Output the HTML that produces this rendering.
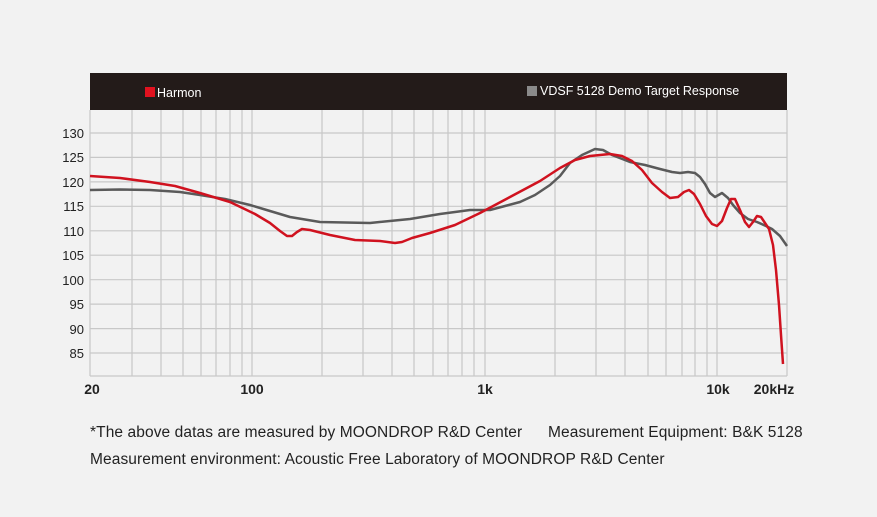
<!DOCTYPE html>
<html><head><meta charset="utf-8"><style>
html,body{margin:0;padding:0;background:#f2f2f2;}
body{width:877px;height:512px;overflow:hidden;font-family:"Liberation Sans",sans-serif;}
</style></head><body>
<svg width="877" height="512" xmlns="http://www.w3.org/2000/svg" font-family="Liberation Sans, sans-serif">
<rect width="877" height="512" fill="#f2f2f2"/>
<rect x="90" y="73" width="697" height="37" fill="#231b19"/>
<rect x="145" y="87" width="10" height="10" fill="#e0121f"/>
<text x="157" y="97" font-size="12.5" fill="#fff">Harmon</text>
<rect x="527" y="86" width="10" height="10" fill="#8a8a8a"/>
<text x="540" y="95" font-size="12.5" fill="#fff">VDSF 5128 Demo Target Response</text>
<g stroke="#c8c8c8" stroke-width="1.2">
<line x1="90" y1="110" x2="90" y2="376"/>
<line x1="787" y1="110" x2="787" y2="376"/>
<line x1="90" y1="376" x2="787" y2="376"/>
<line x1="90" y1="133" x2="787" y2="133"/><line x1="90" y1="157.4" x2="787" y2="157.4"/>
<line x1="90" y1="181.9" x2="787" y2="181.9"/><line x1="90" y1="206.3" x2="787" y2="206.3"/>
<line x1="90" y1="230.8" x2="787" y2="230.8"/><line x1="90" y1="255.2" x2="787" y2="255.2"/>
<line x1="90" y1="279.7" x2="787" y2="279.7"/><line x1="90" y1="304.1" x2="787" y2="304.1"/>
<line x1="90" y1="328.6" x2="787" y2="328.6"/><line x1="90" y1="353" x2="787" y2="353"/>
<line x1="132" y1="110" x2="132" y2="376"/><line x1="161" y1="110" x2="161" y2="376"/>
<line x1="183" y1="110" x2="183" y2="376"/><line x1="201" y1="110" x2="201" y2="376"/>
<line x1="216" y1="110" x2="216" y2="376"/><line x1="230" y1="110" x2="230" y2="376"/>
<line x1="242" y1="110" x2="242" y2="376"/><line x1="252" y1="110" x2="252" y2="376"/>
<line x1="322" y1="110" x2="322" y2="376"/><line x1="363" y1="110" x2="363" y2="376"/>
<line x1="392" y1="110" x2="392" y2="376"/><line x1="414" y1="110" x2="414" y2="376"/>
<line x1="433" y1="110" x2="433" y2="376"/><line x1="448" y1="110" x2="448" y2="376"/>
<line x1="462" y1="110" x2="462" y2="376"/><line x1="474" y1="110" x2="474" y2="376"/>
<line x1="485" y1="110" x2="485" y2="376"/>
<line x1="555" y1="110" x2="555" y2="376"/><line x1="596" y1="110" x2="596" y2="376"/>
<line x1="625" y1="110" x2="625" y2="376"/><line x1="648" y1="110" x2="648" y2="376"/>
<line x1="666" y1="110" x2="666" y2="376"/><line x1="682" y1="110" x2="682" y2="376"/>
<line x1="695" y1="110" x2="695" y2="376"/><line x1="707" y1="110" x2="707" y2="376"/>
<line x1="717" y1="110" x2="717" y2="376"/>
</g>
<g font-size="13" fill="#222" text-anchor="end">
<text x="84" y="138">130</text><text x="84" y="162">125</text><text x="84" y="187">120</text>
<text x="84" y="211">115</text><text x="84" y="236">110</text><text x="84" y="260">105</text>
<text x="84" y="285">100</text><text x="84" y="309">95</text><text x="84" y="334">90</text>
<text x="84" y="358">85</text>
</g>
<g font-size="14" fill="#222" font-weight="bold" text-anchor="middle">
<text x="92" y="394">20</text><text x="252" y="394">100</text><text x="485" y="394">1k</text>
<text x="718" y="394">10k</text><text x="774" y="394">20kHz</text>
</g>
<polyline fill="none" stroke="#5a5a5a" stroke-width="2.5" stroke-linejoin="round" points="90,190 120,189.5 150,190 180,192 200,195 225,199 250,205 270,211 290,217 320,222 370,223 410,219 440,214 470,210 490,210 505,206 520,202 535,195 550,185 560,176 570,163 582,155 595,149 603,150 612,155 630,162 645,165 660,169 672,172 680,173 688,172 695,173 700,177 705,184 710,193 715,197 722,193 728,198 733,205 740,213 748,219 757,222 766,226 772,229 780,236 787,246"/>
<polyline fill="none" stroke="#d0121f" stroke-width="2.5" stroke-linejoin="round" points="90,176 120,178 150,182 175,186 200,193 230,202 255,214 270,223 280,231 287,236 292,236 297,232 302,229 310,230 330,235 355,240 380,241 395,243 402,242 412,238 430,233 455,225 480,213 510,197 540,181 560,168 575,160 590,156 610,154 622,156 632,161 642,170 652,183 662,192 670,198 678,197 684,192 689,190 694,194 700,204 706,216 712,224 717,226 722,221 727,208 731,199 735,199 740,210 745,222 749,227 753,222 757,216 761,217 765,223 769,229 773,245 776,270 779,305 781,335 783,364"/>
<g font-size="15.5" fill="#222" letter-spacing="0.1">
<text x="90" y="437">*The above datas are measured by MOONDROP R&amp;D Center</text>
<text x="548" y="437">Measurement Equipment: B&amp;K 5128</text>
<text x="90" y="464">Measurement environment: Acoustic Free Laboratory of MOONDROP R&amp;D Center</text>
</g>
</svg>
</body></html>
